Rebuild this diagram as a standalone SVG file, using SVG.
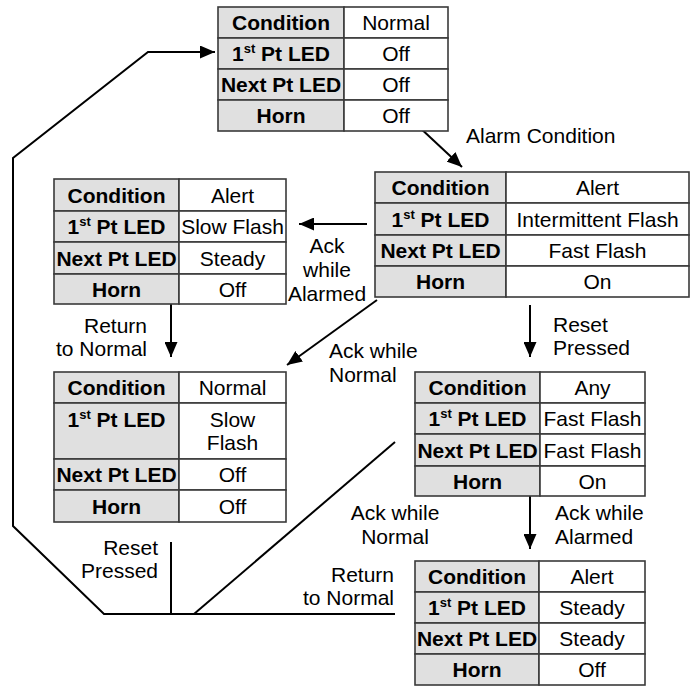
<svg xmlns="http://www.w3.org/2000/svg" width="692" height="686" viewBox="0 0 692 686">
<style>
.lab{fill:#e0e0e0;stroke:#3a3a3a;stroke-width:1.6}
.val{fill:#ffffff;stroke:#3a3a3a;stroke-width:1.6}
.b{font-family:"Liberation Sans",Arial,sans-serif;font-size:21px;font-weight:bold;fill:#000;text-anchor:middle}
.r{font-family:"Liberation Sans",Arial,sans-serif;font-size:21px;fill:#000;text-anchor:middle}
.sup{font-size:13px}
.t{font-family:"Liberation Sans",Arial,sans-serif;font-size:21px;fill:#000}
.conn{fill:none;stroke:#000;stroke-width:2}
</style>
<defs>
<marker id="ah" markerUnits="userSpaceOnUse" markerWidth="15" markerHeight="13" refX="15" refY="6.5" orient="auto">
<path d="M0,0 L15,6.5 L0,13 z" fill="#000"/>
</marker>
</defs>

<g id="connectors">
<line class="conn" x1="417" y1="125" x2="462" y2="167" marker-end="url(#ah)"/>
<line class="conn" x1="367" y1="224" x2="299" y2="224" marker-end="url(#ah)"/>
<line class="conn" x1="171" y1="304" x2="171" y2="357" marker-end="url(#ah)"/>
<line class="conn" x1="377" y1="300" x2="287" y2="365" marker-end="url(#ah)"/>
<line class="conn" x1="530" y1="305" x2="530" y2="357" marker-end="url(#ah)"/>
<line class="conn" x1="530" y1="496" x2="530" y2="549" marker-end="url(#ah)"/>
<polyline class="conn" points="395,614 104,614 13,526 13,158 148,52 215,52" marker-end="url(#ah)"/>
<line class="conn" x1="171" y1="542" x2="171" y2="614"/>
<line class="conn" x1="395" y1="442" x2="194" y2="614"/>
</g>

<g id="labels">
<text class="t" x="466" y="143">Alarm Condition</text>
<text class="r" x="327" y="253">Ack</text>
<text class="r" x="327" y="277">while</text>
<text class="r" x="327" y="301">Alarmed</text>
<text class="t" x="147" y="333" text-anchor="end">Return</text>
<text class="t" x="147" y="356" text-anchor="end">to Normal</text>
<text class="t" x="329" y="358">Ack while</text>
<text class="t" x="329" y="382">Normal</text>
<text class="t" x="553" y="332">Reset</text>
<text class="t" x="553" y="355">Pressed</text>
<text class="r" x="395" y="520">Ack while</text>
<text class="r" x="395" y="544">Normal</text>
<text class="t" x="555" y="520">Ack while</text>
<text class="t" x="555" y="544">Alarmed</text>
<text class="t" x="394" y="582" text-anchor="end">Return</text>
<text class="t" x="394" y="605" text-anchor="end">to Normal</text>
<text class="t" x="158" y="555" text-anchor="end">Reset</text>
<text class="t" x="158" y="578" text-anchor="end">Pressed</text>
</g>

<g id="state-normal">
<rect class="lab" x="218" y="7" width="126" height="31"/>
<rect class="val" x="344" y="7" width="104" height="31"/>
<rect class="lab" x="218" y="38" width="126" height="31"/>
<rect class="val" x="344" y="38" width="104" height="31"/>
<rect class="lab" x="218" y="69" width="126" height="31"/>
<rect class="val" x="344" y="69" width="104" height="31"/>
<rect class="lab" x="218" y="100" width="126" height="31"/>
<rect class="val" x="344" y="100" width="104" height="31"/>
<text class="b" x="281" y="30">Condition</text>
<text class="r" x="396" y="30">Normal</text>
<text class="b" x="281" y="61">1<tspan class="sup" dy="-8">st</tspan><tspan dy="8"> Pt LED</tspan></text>
<text class="r" x="396" y="61">Off</text>
<text class="b" x="281" y="92">Next Pt LED</text>
<text class="r" x="396" y="92">Off</text>
<text class="b" x="281" y="123">Horn</text>
<text class="r" x="396" y="123">Off</text>
</g>

<g id="state-alarm">
<rect class="lab" x="375" y="172" width="131" height="31"/>
<rect class="val" x="506" y="172" width="183" height="31"/>
<rect class="lab" x="375" y="203" width="131" height="32"/>
<rect class="val" x="506" y="203" width="183" height="32"/>
<rect class="lab" x="375" y="235" width="131" height="31"/>
<rect class="val" x="506" y="235" width="183" height="31"/>
<rect class="lab" x="375" y="266" width="131" height="31"/>
<rect class="val" x="506" y="266" width="183" height="31"/>
<text class="b" x="440.5" y="195">Condition</text>
<text class="r" x="597.5" y="195">Alert</text>
<text class="b" x="440.5" y="226.5">1<tspan class="sup" dy="-8">st</tspan><tspan dy="8"> Pt LED</tspan></text>
<text class="r" x="597.5" y="226.5">Intermittent Flash</text>
<text class="b" x="440.5" y="258">Next Pt LED</text>
<text class="r" x="597.5" y="258">Fast Flash</text>
<text class="b" x="440.5" y="289">Horn</text>
<text class="r" x="597.5" y="289">On</text>
</g>

<g id="state-ack-alarmed">
<rect class="lab" x="54" y="179" width="125" height="32"/>
<rect class="val" x="179" y="179" width="107" height="32"/>
<rect class="lab" x="54" y="211" width="125" height="31"/>
<rect class="val" x="179" y="211" width="107" height="31"/>
<rect class="lab" x="54" y="242" width="125" height="32"/>
<rect class="val" x="179" y="242" width="107" height="32"/>
<rect class="lab" x="54" y="274" width="125" height="30"/>
<rect class="val" x="179" y="274" width="107" height="30"/>
<text class="b" x="116.5" y="202.5">Condition</text>
<text class="r" x="232.5" y="202.5">Alert</text>
<text class="b" x="116.5" y="234">1<tspan class="sup" dy="-8">st</tspan><tspan dy="8"> Pt LED</tspan></text>
<text class="r" x="232.5" y="234">Slow Flash</text>
<text class="b" x="116.5" y="265.5">Next Pt LED</text>
<text class="r" x="232.5" y="265.5">Steady</text>
<text class="b" x="116.5" y="296.5">Horn</text>
<text class="r" x="232.5" y="296.5">Off</text>
</g>

<g id="state-ack-normal">
<rect class="lab" x="54" y="372" width="125" height="31"/>
<rect class="val" x="179" y="372" width="107" height="31"/>
<rect class="lab" x="54" y="403" width="125" height="56"/>
<rect class="val" x="179" y="403" width="107" height="56"/>
<rect class="lab" x="54" y="459" width="125" height="31"/>
<rect class="val" x="179" y="459" width="107" height="31"/>
<rect class="lab" x="54" y="490" width="125" height="32"/>
<rect class="val" x="179" y="490" width="107" height="32"/>
<text class="b" x="116.5" y="395">Condition</text>
<text class="r" x="232.5" y="395">Normal</text>
<text class="b" x="116.5" y="427">1<tspan class="sup" dy="-8">st</tspan><tspan dy="8"> Pt LED</tspan></text>
<text class="r" x="232.5" y="427">Slow</text>
<text class="r" x="232.5" y="450">Flash</text>
<text class="b" x="116.5" y="482">Next Pt LED</text>
<text class="r" x="232.5" y="482">Off</text>
<text class="b" x="116.5" y="513.5">Horn</text>
<text class="r" x="232.5" y="513.5">Off</text>
</g>

<g id="state-reset">
<rect class="lab" x="415" y="372" width="125" height="31"/>
<rect class="val" x="540" y="372" width="105" height="31"/>
<rect class="lab" x="415" y="403" width="125" height="31"/>
<rect class="val" x="540" y="403" width="105" height="31"/>
<rect class="lab" x="415" y="434" width="125" height="32"/>
<rect class="val" x="540" y="434" width="105" height="32"/>
<rect class="lab" x="415" y="466" width="125" height="30"/>
<rect class="val" x="540" y="466" width="105" height="30"/>
<text class="b" x="477.5" y="395">Condition</text>
<text class="r" x="592.5" y="395">Any</text>
<text class="b" x="477.5" y="426">1<tspan class="sup" dy="-8">st</tspan><tspan dy="8"> Pt LED</tspan></text>
<text class="r" x="592.5" y="426">Fast Flash</text>
<text class="b" x="477.5" y="457.5">Next Pt LED</text>
<text class="r" x="592.5" y="457.5">Fast Flash</text>
<text class="b" x="477.5" y="488.5">Horn</text>
<text class="r" x="592.5" y="488.5">On</text>
</g>

<g id="state-steady">
<rect class="lab" x="415" y="561" width="124" height="31"/>
<rect class="val" x="539" y="561" width="106" height="31"/>
<rect class="lab" x="415" y="592" width="124" height="31"/>
<rect class="val" x="539" y="592" width="106" height="31"/>
<rect class="lab" x="415" y="623" width="124" height="31"/>
<rect class="val" x="539" y="623" width="106" height="31"/>
<rect class="lab" x="415" y="654" width="124" height="31"/>
<rect class="val" x="539" y="654" width="106" height="31"/>
<text class="b" x="477" y="584">Condition</text>
<text class="r" x="592" y="584">Alert</text>
<text class="b" x="477" y="615">1<tspan class="sup" dy="-8">st</tspan><tspan dy="8"> Pt LED</tspan></text>
<text class="r" x="592" y="615">Steady</text>
<text class="b" x="477" y="646">Next Pt LED</text>
<text class="r" x="592" y="646">Steady</text>
<text class="b" x="477" y="677">Horn</text>
<text class="r" x="592" y="677">Off</text>
</g>
</svg>
